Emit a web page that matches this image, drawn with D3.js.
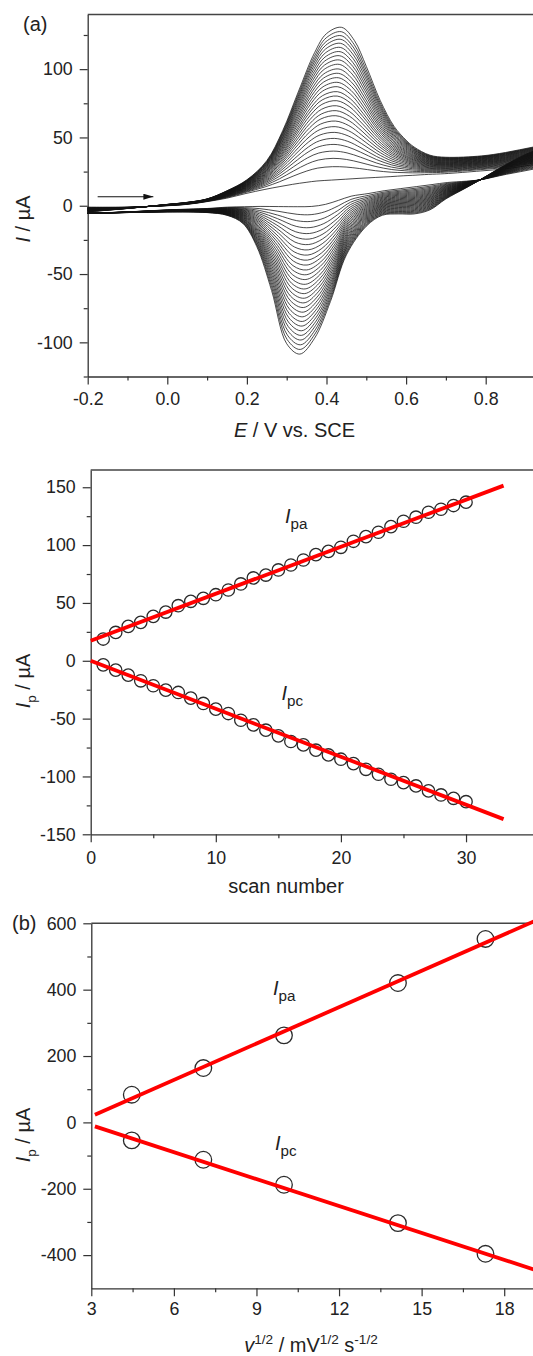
<!DOCTYPE html>
<html>
<head>
<meta charset="utf-8">
<script src="https://cdn.jsdelivr.net/npm/d3@7"></script>
<style>
  html, body { margin: 0; padding: 0; background: #fff; }
  svg { display: block; }
</style>
</head>
<body>
<svg id="fig" width="533" height="1356"></svg>
<script>
// ---------- (a) repeated cyclic voltammograms, 30 scans ----------
const scanNumbers = [1,2,3,4,5,6,7,8,9,10,11,12,13,14,15,16,17,18,19,20,21,22,23,24,25,26,27,28,29,30];
// anodic / cathodic peak currents of each voltammogram (µA)
const anodicPeakCV = [18.8, 28.6, 34.7, 40.0, 44.9, 49.3, 53.7, 57.9, 62.0, 65.9, 69.6, 73.2, 76.9, 80.3, 83.5,
                      87.1, 90.3, 93.7, 96.9, 100.1, 103.5, 106.7, 109.8, 112.8, 115.9, 118.9, 121.8, 124.5, 127.4, 130.6];
const cathodicPeakCV = [-0.5, -6.5, -11.5, -16.0, -20.3, -24.4, -28.4, -32.3, -36.1, -39.8, -43.4, -47.0, -50.5, -54.0, -57.5,
                        -60.9, -64.3, -67.7, -71.1, -74.5, -77.9, -81.3, -84.7, -88.1, -91.5, -94.9, -98.3, -101.8, -105.2, -108.6];
// forward sweep: potential (V) and current (µA) of the first and last scan
const fwdPotential = [-0.2, -0.1, 0.0, 0.05, 0.1, 0.15, 0.2, 0.25, 0.29, 0.33, 0.37, 0.40, 0.438, 0.47, 0.5,
                      0.535, 0.57, 0.6, 0.62, 0.66, 0.7, 0.79, 0.85, 0.92, 0.98];
const fwdLast  = [-4.5, -2, 1, 2.5, 5, 11, 19, 33, 55, 84, 112, 126, 130.6, 121, 102, 77, 58, 48, 43, 37, 35.5, 36.5, 39, 43, 46];
const fwdFirst = [-1, -1, 0, 1, 3, 5.5, 9, 12, 14, 15.8, 17.3, 18.3, 19, 19.6, 20.2, 20.8, 21.4, 22, 22.3, 23, 23.5, 25.5, 27, 30, 33];
// reverse sweep
const revPotential = [0.98, 0.92, 0.85, 0.786, 0.75, 0.7, 0.66, 0.62, 0.58, 0.54, 0.5, 0.45, 0.41, 0.37, 0.333,
                      0.30, 0.262, 0.225, 0.19, 0.15, 0.1, 0.0, -0.1, -0.2];
const revLast  = [44, 40, 30, 19, 13, 5, -3, -6, -6, -7, -15, -36, -70, -97, -108.6, -101, -62, -30, -13, -7, -5, -4.5, -5, -5.5];
const revFirst = [31, 27, 23, 19, 18, 17, 15.5, 14, 12.5, 11, 9, 7, 4, 1, -0.5, -0.7, -0.6, -0.5, -0.7, -1, -2, -3, -4.5, -5.5];
// peak potential drift between the smallest and largest peaks (V)
const anodicPeakDrift = -0.025;
const cathodicPeakDrift = 0.03;
// sweep direction arrow
const arrowPotential = [-0.175, -0.035];
const arrowCurrent = 6.6;

// ---------- peak current vs scan number ----------
const scanIdx = [1,2,3,4,5,6,7,8,9,10,11,12,13,14,15,16,17,18,19,20,21,22,23,24,25,26,27,28,29,30];
const ipaScan = [18.8, 24.5, 29.7, 33.2, 38.4, 42.1, 47.6, 51.4, 54.0, 57.1, 61.2, 66.4, 71.6, 74.1, 78.5,
                 82.8, 87.1, 91.8, 94.6, 98.1, 103.3, 107.3, 111.1, 116.0, 120.6, 124.1, 128.4, 131.0, 134.2, 137.1];
const ipcScan = [-3.5, -8.1, -12.4, -17.3, -21.6, -25.4, -27.4, -32.3, -36.9, -41.8, -45.6, -51.4, -55.4, -60.0, -64.9,
                 -69.8, -72.7, -77.3, -81.4, -85.1, -88.9, -93.8, -98.1, -102.4, -105.3, -108.2, -112.5, -116.0, -118.9, -121.8];
const fitScanRange = [0, 33];
const fitIpaScan = [17.3, 151.4];
const fitIpcScan = [0, -136.9];

// ---------- (b) peak current vs square root of scan rate ----------
const sqrtRate = [4.47, 7.07, 10.0, 14.14, 17.32];
const ipaRate = [83.4, 163.8, 262.3, 420.0, 552.8];
const ipcRate = [-54.3, -112.6, -188.0, -303.5, -396.0];
const fitRateRange = [3.13, 19.3];
const fitIpaRate = [23.0, 614.0];
const fitIpcRate = [-12.0, -449.4];

// ---------- tick values and labels ----------
const xTicksA = [-0.2, 0.0, 0.2, 0.4, 0.6, 0.8];
const xLabelsA = ["-0.2", "0.0", "0.2", "0.4", "0.6", "0.8"];
const xMinorA = [-0.1, 0.1, 0.3, 0.5, 0.7];
const yTicksA = [-100, -50, 0, 50, 100];
const yLabelsA = ["-100", "-50", "0", "50", "100"];
const yMinorA = [-125, -75, -25, 25, 75, 125];

const xTicksB = [0, 10, 20, 30];
const xLabelsB = ["0", "10", "20", "30"];
const xMinorB = [5, 15, 25];
const yTicksB = [-150, -100, -50, 0, 50, 100, 150];
const yLabelsB = ["-150", "-100", "-50", "0", "50", "100", "150"];
const yMinorB = [-125, -75, -25, 25, 75, 125];

const xTicksC = [3, 6, 9, 12, 15, 18];
const xLabelsC = ["3", "6", "9", "12", "15", "18"];
const xMinorC = [4.5, 7.5, 10.5, 13.5, 16.5];
const yTicksC = [-400, -200, 0, 200, 400, 600];
const yLabelsC = ["-400", "-200", "0", "200", "400", "600"];
const yMinorC = [-300, -100, 100, 300, 500];

// ================= drawing =================
const FONT = '"Liberation Sans", Arial, Helvetica, sans-serif';
const INK = "#222";
const AXIS = "#333";
const svg = d3.select("#fig");

// scales
const xA = d3.scaleLinear().domain([-0.2, 1.0]).range([87.7, 565.3]);
const yA = d3.scaleLinear().domain([-125, 140]).range([376.5, 14.5]);
const xB = d3.scaleLinear().domain([0, 36]).range([90.7, 541.1]);
const yB = d3.scaleLinear().domain([-150, 165]).range([834.3, 469.9]);
const xC = d3.scaleLinear().domain([3, 19.5]).range([91.3, 545.5]);
const yC = d3.scaleLinear().domain([-500, 600]).range([1288.3, 923.3]);

function styleAxis(g) {
  g.attr("font-family", FONT).attr("font-size", 17.8);
  g.select(".domain").attr("stroke", AXIS).attr("stroke-width", 1.3);
  g.selectAll(".tick line").attr("stroke", AXIS).attr("stroke-width", 1.2);
  g.selectAll(".tick text").attr("fill", INK);
}

function drawFrame(x, y, o) {
  const yBase = y.range()[0], yTop = y.range()[1];
  const xLeft = x.range()[0], xRight = x.range()[1];
  // minor ticks
  svg.append("g").attr("transform", `translate(0,${yBase})`)
    .call(d3.axisBottom(x).tickValues(o.xMinor).tickSize(4).tickSizeOuter(0).tickFormat(""))
    .call(styleAxis).call(g => g.select(".domain").remove());
  svg.append("g").attr("transform", `translate(${xLeft},0)`)
    .call(d3.axisLeft(y).tickValues(o.yMinor).tickSize(4).tickSizeOuter(0).tickFormat(""))
    .call(styleAxis).call(g => g.select(".domain").remove());
  // major ticks with labels
  svg.append("g").attr("transform", `translate(0,${yBase})`)
    .call(d3.axisBottom(x).tickValues(o.xTicks).tickSize(8).tickSizeOuter(0).tickPadding(o.xPad)
      .tickFormat((d, i) => o.xLabels[i]))
    .call(styleAxis);
  svg.append("g").attr("transform", `translate(${xLeft},0)`)
    .call(d3.axisLeft(y).tickValues(o.yTicks).tickSize(8).tickSizeOuter(0).tickPadding(7)
      .tickFormat((d, i) => o.yLabels[i]))
    .call(styleAxis);
  // top border
  svg.append("line").attr("x1", xLeft).attr("x2", xRight).attr("y1", yTop).attr("y2", yTop)
    .attr("stroke", "#444").attr("stroke-width", 1.5);
}

// rich text: segments {t, it, sub, sup}
function rich(x, y, segs, size, opts = {}) {
  const t = svg.append("text").attr("font-family", FONT).attr("font-size", size)
    .attr("fill", INK).attr("text-anchor", opts.anchor || "start");
  if (opts.rotate) t.attr("transform", `translate(${x},${y}) rotate(-90)`);
  else t.attr("x", x).attr("y", y);
  const subScale = opts.subScale || 0.68;
  let shift = 0;
  segs.forEach(s => {
    const target = s.sub ? size * 0.3 : s.sup ? -size * 0.42 : 0;
    const sp = t.append("tspan").text(s.t).attr("dy", target - shift);
    shift = target;
    if (s.it) sp.attr("font-style", "italic");
    if (s.sub || s.sup) sp.attr("font-size", size * subScale);
  });
  return t;
}

// ---------- panel (a) ----------
drawFrame(xA, yA, { xTicks: xTicksA, xLabels: xLabelsA, xMinor: xMinorA,
                    yTicks: yTicksA, yLabels: yLabelsA, yMinor: yMinorA, xPad: 8 });

const iPkA = fwdPotential.indexOf(0.438);
const iPkC = revPotential.indexOf(0.333);
const fwdDiff = fwdLast.map((v, i) => v - fwdFirst[i]);
const revDiff = revLast.map((v, i) => v - revFirst[i]);
const fwdDiffMax = d3.max(fwdDiff, Math.abs);
const revDiffMax = d3.max(revDiff, Math.abs);

function scanLoop(k) {
  const wA = (anodicPeakCV[k] - fwdFirst[iPkA]) / (fwdLast[iPkA] - fwdFirst[iPkA]);
  const wC = (cathodicPeakCV[k] - revFirst[iPkC]) / (revLast[iPkC] - revFirst[iPkC]);
  const sA = anodicPeakDrift * (1 - wA);
  const sC = cathodicPeakDrift * (1 - wC);
  const fwd = fwdPotential.map((E, i) => [E + sA * Math.abs(fwdDiff[i]) / fwdDiffMax, fwdFirst[i] + wA * fwdDiff[i]]);
  const rev = revPotential.map((E, i) => [E + sC * Math.abs(revDiff[i]) / revDiffMax, revFirst[i] + wC * revDiff[i]]);
  return fwd.concat(rev);
}

const cvLine = d3.line().x(d => xA(d[0])).y(d => yA(d[1])).curve(d3.curveCatmullRom.alpha(0.5));
svg.append("g").selectAll("path").data(scanNumbers).join("path")
  .attr("d", (n, k) => cvLine(scanLoop(k)))
  .attr("fill", "none").attr("stroke", "#111").attr("stroke-width", 0.85).attr("stroke-opacity", 0.9);

// sweep direction arrow
svg.append("defs").append("marker").attr("id", "head").attr("viewBox", "0 0 10 6")
  .attr("refX", 10).attr("refY", 3).attr("markerWidth", 10).attr("markerHeight", 6)
  .attr("markerUnits", "userSpaceOnUse").attr("orient", "auto")
  .append("path").attr("d", "M0,0 L10,3 L0,6 Z").attr("fill", "#111");
svg.append("line").attr("x1", xA(arrowPotential[0])).attr("x2", xA(arrowPotential[1]))
  .attr("y1", yA(arrowCurrent)).attr("y2", yA(arrowCurrent))
  .attr("stroke", "#111").attr("stroke-width", 1.2).attr("marker-end", "url(#head)");

rich(23, 31, [{ t: "(a)" }], 20);
rich(294.5, 437, [{ t: "E", it: 1 }, { t: " / V vs. SCE" }], 20, { anchor: "middle" });
rich(30, 219, [{ t: "I", it: 1 }, { t: " / µA" }], 20, { anchor: "middle", rotate: 1 });

// ---------- peak current vs scan number ----------
drawFrame(xB, yB, { xTicks: xTicksB, xLabels: xLabelsB, xMinor: xMinorB,
                    yTicks: yTicksB, yLabels: yLabelsB, yMinor: yMinorB, xPad: 9 });

function markers(x, y, xs, ys, r) {
  svg.append("g").selectAll("circle").data(xs).join("circle")
    .attr("cx", d => x(d)).attr("cy", (d, i) => y(ys[i])).attr("r", r)
    .attr("fill", "none").attr("stroke", "#2a2a2a").attr("stroke-width", 1.3);
}
function fitLine(x, y, xr, yr) {
  svg.append("line").attr("x1", x(xr[0])).attr("x2", x(xr[1]))
    .attr("y1", y(yr[0])).attr("y2", y(yr[1]))
    .attr("stroke", "#ff0000").attr("stroke-width", 3.8);
}
markers(xB, yB, scanIdx, ipaScan, 6.2);
markers(xB, yB, scanIdx, ipcScan, 6.2);
fitLine(xB, yB, fitScanRange, fitIpaScan);
fitLine(xB, yB, fitScanRange, fitIpcScan);

rich(285, 523, [{ t: "I", it: 1 }, { t: "pa", sub: 1 }], 20, { subScale: 0.76 });
rich(281.5, 700, [{ t: "I", it: 1 }, { t: "pc", sub: 1 }], 20, { subScale: 0.76 });
rich(286, 892.5, [{ t: "scan number" }], 20, { anchor: "middle" });
rich(30, 681, [{ t: "I", it: 1 }, { t: "p", sub: 1 }, { t: " / µA" }], 20, { anchor: "middle", rotate: 1 });

// ---------- panel (b) ----------
drawFrame(xC, yC, { xTicks: xTicksC, xLabels: xLabelsC, xMinor: xMinorC,
                    yTicks: yTicksC, yLabels: yLabelsC, yMinor: yMinorC, xPad: 6 });
markers(xC, yC, sqrtRate, ipaRate, 8.3);
markers(xC, yC, sqrtRate, ipcRate, 8.3);
fitLine(xC, yC, fitRateRange, fitIpaRate);
fitLine(xC, yC, fitRateRange, fitIpcRate);

rich(273, 995, [{ t: "I", it: 1 }, { t: "pa", sub: 1 }], 20, { subScale: 0.76 });
rich(275, 1150, [{ t: "I", it: 1 }, { t: "pc", sub: 1 }], 20, { subScale: 0.76 });
rich(12, 930, [{ t: "(b)" }], 20);
rich(311, 1352, [{ t: "v", it: 1 }, { t: "1/2", sup: 1 }, { t: " / mV" }, { t: "1/2", sup: 1 },
                 { t: " s" }, { t: "-1/2", sup: 1 }], 20, { anchor: "middle" });
rich(30, 1135, [{ t: "I", it: 1 }, { t: "p", sub: 1 }, { t: " / µA" }], 20, { anchor: "middle", rotate: 1 });
</script>
</body>
</html>
